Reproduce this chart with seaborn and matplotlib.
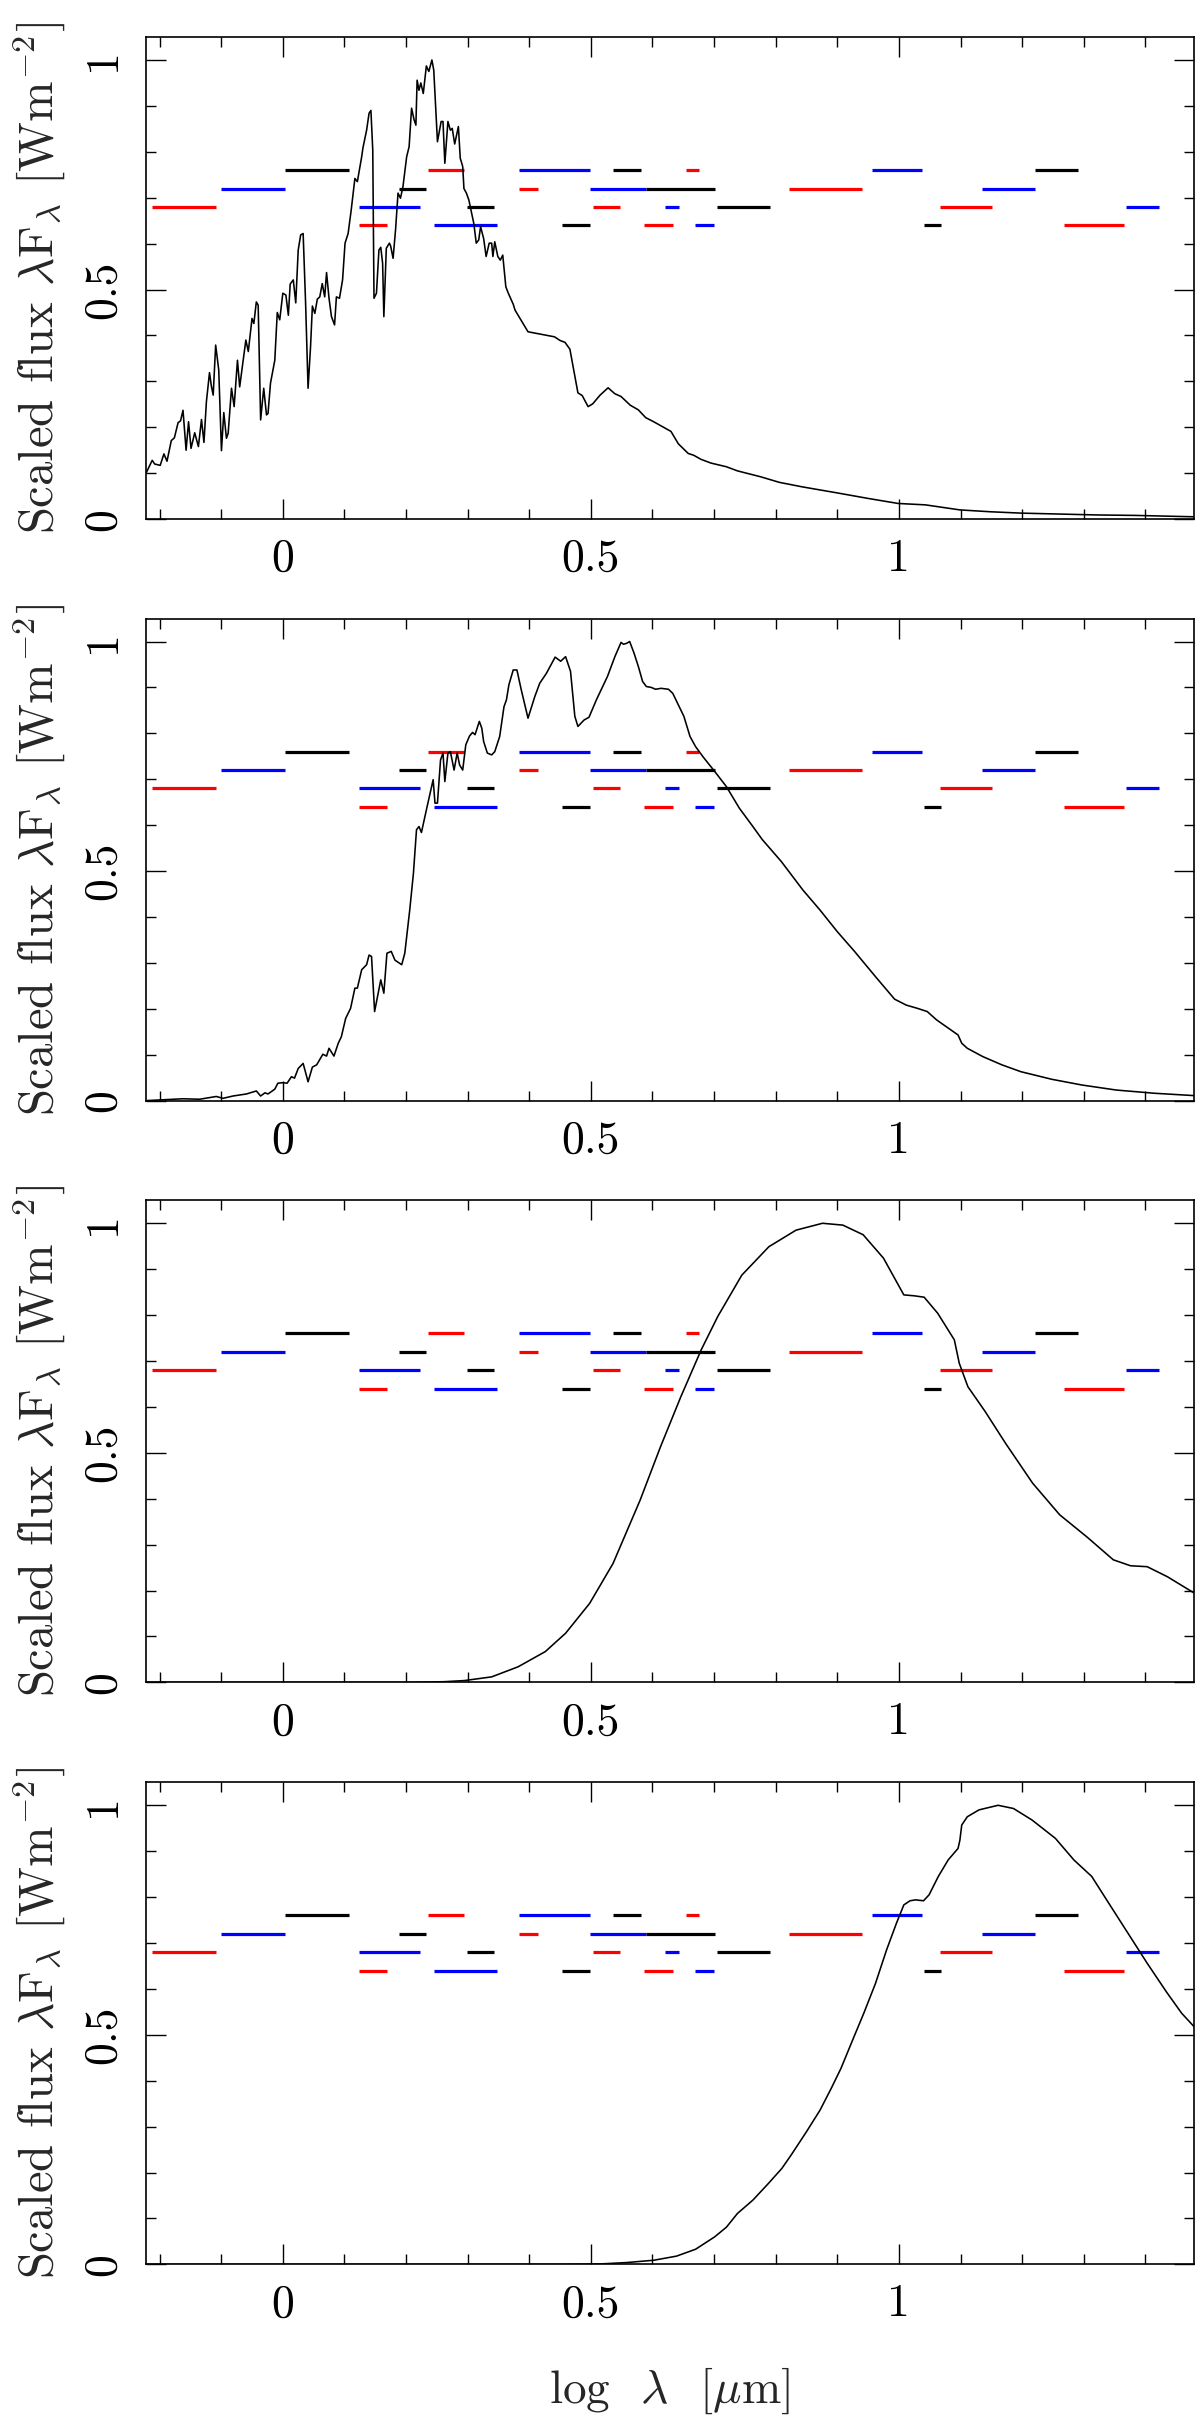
import numpy as np
import seaborn as sns
import matplotlib
matplotlib.use('Agg')
import matplotlib.pyplot as plt
from matplotlib.ticker import MultipleLocator, FixedLocator

# filter passbands (log lambda start, end) and the flux level they are drawn at
red_lo = [-0.213, 0.123, 0.236, 0.383, 0.504, 0.586, 0.654, 0.821, 1.066, 1.268]
red_hi = [-0.109, 0.169, 0.294, 0.414, 0.547, 0.633, 0.676, 0.940, 1.151, 1.365]
red_lev = [0.68, 0.64, 0.76, 0.72, 0.68, 0.64, 0.76, 0.72, 0.68, 0.64]

blue_lo = [-0.100, 0.124, 0.245, 0.383, 0.498, 0.620, 0.669, 0.956, 1.135, 1.369]
blue_hi = [0.003, 0.223, 0.347, 0.498, 0.589, 0.643, 0.700, 1.038, 1.221, 1.423]
blue_lev = [0.72, 0.68, 0.64, 0.76, 0.72, 0.68, 0.64, 0.76, 0.72, 0.68]

black_lo = [0.004, 0.188, 0.299, 0.453, 0.536, 0.589, 0.705, 1.041, 1.221]
black_hi = [0.108, 0.233, 0.342, 0.499, 0.581, 0.701, 0.790, 1.068, 1.290]
black_lev = [0.76, 0.72, 0.68, 0.64, 0.76, 0.72, 0.68, 0.64, 0.76]

# spectrum 1 (cool star, lots of bands)
logwl_1 = [-0.222, -0.212, -0.208, -0.199, -0.193, -0.188, -0.181, -0.176, -0.170, -0.166,
           -0.162, -0.157, -0.153, -0.149, -0.143, -0.137, -0.132, -0.128, -0.124, -0.119,
           -0.116, -0.113, -0.109, -0.104, -0.0996, -0.0958, -0.0915, -0.0887, -0.0833, -0.079,
           -0.0736, -0.070, -0.060, -0.056, -0.050, -0.047, -0.043, -0.040, -0.036, -0.031,
           -0.0265, -0.024, -0.020, -0.013, -0.009, -0.005, 0.000, 0.005, 0.009, 0.012,
           0.017, 0.021, 0.025, 0.029, 0.033, 0.037, 0.041, 0.045, 0.048, 0.052,
           0.056, 0.060, 0.064, 0.068, 0.071, 0.075, 0.079, 0.084, 0.087, 0.092,
           0.097, 0.101, 0.106, 0.111, 0.117, 0.121, 0.128, 0.130, 0.136, 0.140,
           0.143, 0.146, 0.148, 0.152, 0.156, 0.159, 0.162, 0.164, 0.168, 0.173,
           0.175, 0.179, 0.183, 0.187, 0.191, 0.195, 0.201, 0.205, 0.209, 0.213,
           0.216, 0.218, 0.221, 0.224, 0.228, 0.233, 0.237, 0.242, 0.245, 0.251,
           0.257, 0.260, 0.263, 0.268, 0.272, 0.275, 0.279, 0.285, 0.288, 0.292,
           0.294, 0.298, 0.302, 0.306, 0.310, 0.314, 0.318, 0.321, 0.326, 0.330,
           0.335, 0.339, 0.341, 0.344, 0.349, 0.353, 0.357, 0.362, 0.366, 0.371,
           0.374, 0.377, 0.398, 0.433, 0.441, 0.450, 0.458, 0.466, 0.479, 0.486,
           0.4955, 0.503, 0.515, 0.528, 0.539, 0.549, 0.564, 0.577, 0.589, 0.602,
           0.614, 0.630, 0.642, 0.658, 0.667, 0.679, 0.695, 0.720, 0.738, 0.776,
           0.806, 0.844, 0.900, 0.950, 0.999, 1.043, 1.099, 1.148, 1.198, 1.260,
           1.322, 1.384, 1.479]
flux_1 = [0.100, 0.128, 0.120, 0.117, 0.142, 0.126, 0.171, 0.177, 0.210, 0.214,
          0.237, 0.150, 0.212, 0.154, 0.188, 0.158, 0.217, 0.167, 0.256, 0.319,
          0.290, 0.270, 0.379, 0.325, 0.149, 0.232, 0.176, 0.187, 0.285, 0.245,
          0.346, 0.288, 0.390, 0.365, 0.437, 0.426, 0.473, 0.466, 0.216, 0.285,
          0.227, 0.230, 0.296, 0.346, 0.450, 0.434, 0.492, 0.488, 0.444, 0.512,
          0.521, 0.471, 0.586, 0.619, 0.622, 0.470, 0.285, 0.375, 0.464, 0.448,
          0.479, 0.484, 0.513, 0.484, 0.537, 0.481, 0.441, 0.423, 0.484, 0.481,
          0.521, 0.601, 0.622, 0.673, 0.742, 0.735, 0.789, 0.808, 0.847, 0.884,
          0.890, 0.804, 0.481, 0.492, 0.586, 0.592, 0.557, 0.441, 0.590, 0.601,
          0.595, 0.568, 0.630, 0.710, 0.699, 0.724, 0.789, 0.811, 0.895, 0.870,
          0.858, 0.956, 0.934, 0.950, 0.927, 0.987, 0.975, 1.000, 0.978, 0.822,
          0.866, 0.866, 0.775, 0.866, 0.847, 0.851, 0.817, 0.855, 0.786, 0.768,
          0.720, 0.710, 0.695, 0.670, 0.644, 0.601, 0.608, 0.637, 0.611, 0.572,
          0.601, 0.601, 0.572, 0.604, 0.572, 0.564, 0.575, 0.506, 0.492, 0.477,
          0.468, 0.455, 0.408, 0.399, 0.397, 0.389, 0.385, 0.370, 0.275, 0.269,
          0.245, 0.251, 0.270, 0.286, 0.273, 0.267, 0.248, 0.238, 0.221, 0.212,
          0.203, 0.191, 0.164, 0.143, 0.139, 0.130, 0.122, 0.114, 0.105, 0.092,
          0.080, 0.070, 0.057, 0.045, 0.034, 0.031, 0.020, 0.016, 0.013, 0.011,
          0.009, 0.008, 0.005]

# spectrum 2
logwl_2 = [-0.222, -0.200, -0.162, -0.135, -0.108, -0.097, -0.081, -0.059, -0.043, -0.036,
           -0.029, -0.024, -0.013, -0.008, 0.000, 0.007, 0.014, 0.019, 0.025, 0.033,
           0.041, 0.048, 0.055, 0.065, 0.071, 0.075, 0.083, 0.090, 0.095, 0.102,
           0.110, 0.117, 0.121, 0.128, 0.136, 0.140, 0.144, 0.149, 0.159, 0.164,
           0.169, 0.176, 0.182, 0.193, 0.198, 0.206, 0.212, 0.217, 0.221, 0.225,
           0.233, 0.244, 0.247, 0.251, 0.256, 0.260, 0.263, 0.268, 0.272, 0.278,
           0.283, 0.287, 0.292, 0.297, 0.303, 0.308, 0.312, 0.319, 0.323, 0.326,
           0.332, 0.339, 0.344, 0.352, 0.359, 0.363, 0.367, 0.374, 0.380, 0.387,
           0.398, 0.409, 0.417, 0.428, 0.442, 0.451, 0.459, 0.467, 0.474, 0.479,
           0.489, 0.497, 0.509, 0.527, 0.539, 0.549, 0.553, 0.558, 0.563, 0.570,
           0.577, 0.584, 0.590, 0.598, 0.605, 0.614, 0.626, 0.633, 0.642, 0.651,
           0.661, 0.670, 0.682, 0.701, 0.720, 0.741, 0.763, 0.778, 0.809, 0.844,
           0.872, 0.900, 0.928, 0.962, 0.993, 1.012, 1.030, 1.046, 1.061, 1.080,
           1.096, 1.102, 1.111, 1.136, 1.167, 1.198, 1.248, 1.297, 1.353, 1.415,
           1.478]
flux_2 = [0.000, 0.0015, 0.004, 0.003, 0.009, 0.005, 0.010, 0.0145, 0.021, 0.010,
          0.017, 0.0145, 0.025, 0.038, 0.039, 0.038, 0.052, 0.049, 0.070, 0.081,
          0.041, 0.073, 0.078, 0.101, 0.097, 0.114, 0.097, 0.125, 0.139, 0.179,
          0.201, 0.245, 0.245, 0.285, 0.296, 0.317, 0.314, 0.194, 0.263, 0.234,
          0.321, 0.325, 0.306, 0.296, 0.321, 0.415, 0.495, 0.590, 0.597, 0.584,
          0.633, 0.699, 0.648, 0.648, 0.742, 0.757, 0.695, 0.757, 0.760, 0.720,
          0.757, 0.731, 0.720, 0.775, 0.794, 0.802, 0.797, 0.826, 0.811, 0.782,
          0.757, 0.753, 0.760, 0.793, 0.858, 0.873, 0.906, 0.938, 0.938, 0.895,
          0.833, 0.880, 0.909, 0.931, 0.966, 0.957, 0.967, 0.935, 0.837, 0.815,
          0.829, 0.835, 0.873, 0.924, 0.967, 0.998, 0.994, 0.996, 1.000, 0.975,
          0.946, 0.913, 0.902, 0.900, 0.896, 0.898, 0.896, 0.887, 0.862, 0.837,
          0.793, 0.771, 0.749, 0.717, 0.684, 0.637, 0.597, 0.569, 0.521, 0.459,
          0.415, 0.368, 0.325, 0.270, 0.221, 0.208, 0.201, 0.194, 0.176, 0.158,
          0.143, 0.125, 0.114, 0.096, 0.078, 0.063, 0.0465, 0.034, 0.023, 0.016,
          0.011]

# spectrum 3
logwl_3 = [-0.222, 0.000, 0.207, 0.262, 0.295, 0.339, 0.382, 0.426, 0.459, 0.498,
           0.536, 0.580, 0.613, 0.646, 0.679, 0.706, 0.745, 0.789, 0.833, 0.876,
           0.909, 0.942, 0.975, 1.008, 1.025, 1.041, 1.063, 1.090, 1.098, 1.112,
           1.140, 1.173, 1.217, 1.261, 1.305, 1.348, 1.376, 1.403, 1.436, 1.480]
flux_3 = [0.000, 0.000, 0.000, 0.0015, 0.004, 0.012, 0.034, 0.067, 0.107, 0.172,
          0.259, 0.397, 0.513, 0.622, 0.724, 0.797, 0.887, 0.949, 0.985, 1.000,
          0.996, 0.975, 0.924, 0.844, 0.842, 0.839, 0.804, 0.746, 0.695, 0.644,
          0.590, 0.521, 0.434, 0.365, 0.317, 0.267, 0.254, 0.252, 0.230, 0.194]

# spectrum 4
logwl_4 = [-0.222, 0.200, 0.450, 0.515, 0.558, 0.602, 0.639, 0.670, 0.701, 0.720,
           0.738, 0.763, 0.788, 0.810, 0.825, 0.850, 0.872, 0.890, 0.906, 0.925,
           0.943, 0.962, 0.980, 0.996, 1.008, 1.018, 1.027, 1.040, 1.049, 1.064,
           1.080, 1.096, 1.099, 1.102, 1.111, 1.130, 1.161, 1.186, 1.216, 1.254,
           1.284, 1.313, 1.341, 1.372, 1.403, 1.434, 1.459, 1.479]
flux_4 = [0.000, 0.000, 0.000, 0.001, 0.004, 0.009, 0.018, 0.033, 0.060, 0.081,
          0.111, 0.140, 0.176, 0.209, 0.238, 0.289, 0.336, 0.383, 0.427, 0.489,
          0.547, 0.612, 0.685, 0.743, 0.783, 0.792, 0.794, 0.792, 0.805, 0.845,
          0.881, 0.906, 0.924, 0.957, 0.975, 0.990, 1.000, 0.993, 0.968, 0.928,
          0.881, 0.845, 0.786, 0.721, 0.656, 0.594, 0.547, 0.518]

xtick_vals = [0, 0.5, 1]
xtick_text = ['0', '0.5', '1']
ytick_vals = [0, 0.5, 1]
ytick_text = ['0', '0.5', '1']

spectra = [(logwl_1, flux_1), (logwl_2, flux_2), (logwl_3, flux_3), (logwl_4, flux_4)]
bands = [(red_lo, red_hi, red_lev, 'red'),
         (blue_lo, blue_hi, blue_lev, 'blue'),
         (black_lo, black_hi, black_lev, 'black')]


def draw_panel(ax, wl, flux, show_xlabel):
    for lo, hi, lev, col in bands:
        ax.hlines(lev, lo, hi, colors=col, linewidth=2.3, capstyle='butt', zorder=2)
    sns.lineplot(x=wl, y=flux, ax=ax, color='black', linewidth=1.15,
                 estimator=None, sort=False, zorder=3)

    ax.set_xlim(-0.222, 1.479)
    ax.set_ylim(0, 1.05)
    ax.xaxis.set_major_locator(FixedLocator(xtick_vals))
    ax.set_xticklabels(xtick_text)
    ax.xaxis.set_minor_locator(MultipleLocator(0.1))
    ax.yaxis.set_major_locator(FixedLocator(ytick_vals))
    ax.set_yticklabels(ytick_text, rotation=90, va='center')
    ax.yaxis.set_minor_locator(MultipleLocator(0.1))

    ax.tick_params(which='both', direction='in', top=True, right=True, width=1.0, colors='black')
    ax.tick_params(which='major', length=14.4, labelsize=33)
    ax.tick_params(which='minor', length=7.2)
    ax.tick_params(axis='x', which='major', pad=14)
    ax.tick_params(axis='y', which='major', pad=16)
    for sp in ax.spines.values():
        sp.set_linewidth(1.2)
        sp.set_color('black')
        sp.set_visible(True)

    ax.set_ylabel(r'Scaled flux $\lambda\mathrm{F}_\lambda$ [$\mathrm{Wm}^{-2}$]', fontsize=35)
    ax.yaxis.set_label_coords(-0.074, 0.5)
    if show_xlabel:
        ax.set_xlabel(r'log  $\lambda$  [$\mu$m]', fontsize=34, va='baseline')
        ax.xaxis.set_label_coords(0.5, -0.288)
    else:
        ax.set_xlabel('')


sns.set_theme(style='ticks')
plt.rcParams['font.family'] = 'serif'
plt.rcParams['font.serif'] = ['cmr10']
plt.rcParams['mathtext.fontset'] = 'cm'
plt.rcParams['axes.formatter.use_mathtext'] = True
plt.rcParams['axes.unicode_minus'] = False

fig = plt.figure(figsize=(12, 24.2), dpi=100)
bottoms = [0.7855, 0.5452, 0.3048, 0.0643]
for i, (wl, flux) in enumerate(spectra):
    ax = fig.add_axes([0.1217, bottoms[i], 0.8733, 0.1992])
    draw_panel(ax, wl, flux, i == 3)

fig.savefig('out.png', dpi=100, facecolor='white')
